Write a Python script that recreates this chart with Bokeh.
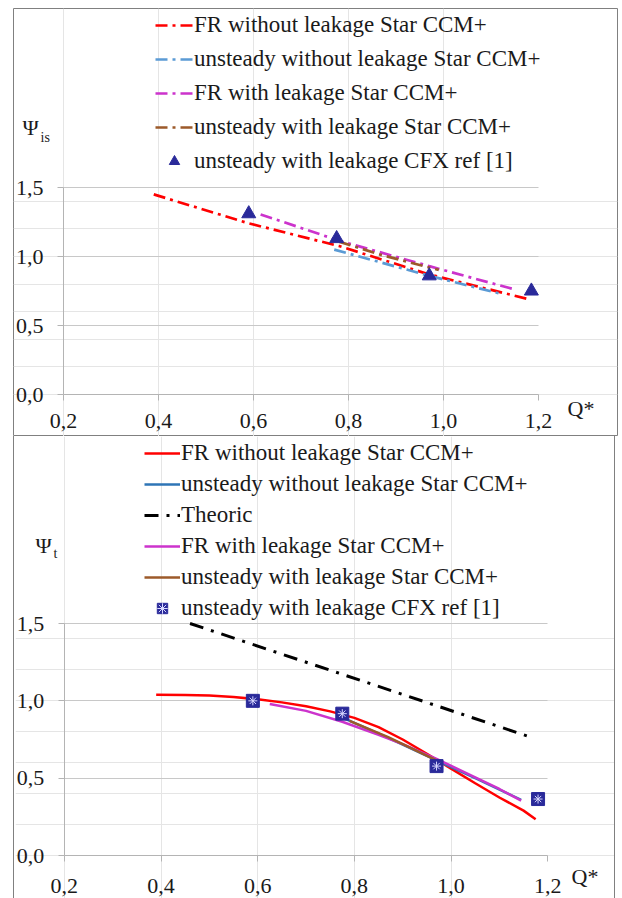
from bokeh.plotting import figure
from bokeh.models import (Range1d, FixedTicker, Label, Legend, LegendItem,
                          LinearAxis, Grid)
from bokeh.layouts import column
from bokeh.embed import file_html
from bokeh.resources import INLINE

# ---------------- data ----------------
x_ticks = [0.2, 0.4, 0.6, 0.8, 1.0, 1.2]
x_tick_labels = ["0,2", "0,4", "0,6", "0,8", "1,0", "1,2"]
y_ticks = [0.0, 0.5, 1.0, 1.5]
y_tick_labels = ["0,0", "0,5", "1,0", "1,5"]

# top panel : Psi_is
is_fr_noleak_q = [0.39, 0.59, 0.78, 0.97, 1.18]
is_fr_noleak_psi = [1.45, 1.24, 1.076, 0.87, 0.69]
is_unst_noleak_q = [0.77, 0.97, 1.12]
is_unst_noleak_psi = [1.05, 0.86, 0.73]
is_fr_leak_q = [0.615, 0.78, 0.97, 1.148]
is_fr_leak_psi = [1.305, 1.115, 0.93, 0.763]
is_unst_leak_q = [0.78, 0.87, 0.99]
is_unst_leak_psi = [1.108, 1.01, 0.903]
is_cfx_q = [0.59, 0.775, 0.97, 1.185]
is_cfx_psi = [1.31, 1.13, 0.86, 0.75]

# bottom panel : Psi_t
t_fr_noleak_q = [0.39, 0.45, 0.5, 0.55, 0.6, 0.65, 0.7, 0.75, 0.8, 0.85,
                 0.9, 0.95, 1.0, 1.05, 1.1, 1.15, 1.175]
t_fr_noleak_psi = [1.04, 1.038, 1.035, 1.025, 1.01, 0.99, 0.965, 0.932, 0.89,
                   0.83, 0.75, 0.658, 0.562, 0.467, 0.375, 0.29, 0.235]
t_unst_noleak_q = [0.78, 0.87, 0.97, 1.06, 1.145]
t_unst_noleak_psi = [0.885, 0.76, 0.615, 0.485, 0.36]
t_theoric_q = [0.46, 1.165]
t_theoric_psi = [1.5, 0.765]
t_fr_leak_q = [0.625, 0.7, 0.775, 0.85, 0.9, 0.97, 1.05, 1.1, 1.145]
t_fr_leak_psi = [0.98, 0.935, 0.865, 0.78, 0.72, 0.625, 0.505, 0.43, 0.355]
t_unst_leak_q = [0.79, 0.87, 0.97]
t_unst_leak_psi = [0.87, 0.765, 0.615]
t_cfx_q = [0.59, 0.775, 0.97, 1.18]
t_cfx_psi = [1.0, 0.917, 0.578, 0.365]

# ---------------- style ----------------
FONT = "'Liberation Serif', 'Times New Roman', serif"
FS = "22px"
LFS = "23px"
TXT = "#1a1a1a"
AXC = "#b4b4b4"
BORDER = "#808080"
RED = "#ff0000"
BLUE_T = "#5b9bd5"
BLUE_B = "#2e75b6"
MAG = "#cc33cc"
BROWN = "#9c5a2a"
NAVY = "#2a2a9a"


def panel(width, height, margin, fr, px, py, mb, xstand, outline, styles):
    """fr = frame (left, top, right, bottom) in page px;
    px = page x of Q*=0.2 and 1.2; py = page y of Psi=1.5 and 0."""
    fl, ft, frr, fb = fr
    kx = (px[1] - px[0]) / 1.0
    ky = (py[1] - py[0]) / 1.5
    xr = Range1d(0.2 - (px[0] - fl) / kx, 1.2 + (frr - px[1]) / kx)
    yr = Range1d(0.0 - (fb - py[1]) / ky, 1.5 + (py[0] - ft) / ky)
    p = figure(width=width, height=height, x_range=xr, y_range=yr,
               x_axis_location=None, y_axis_location=None,
               output_backend="svg", toolbar_location=None,
               min_border_left=mb[0], min_border_right=mb[1],
               min_border_top=mb[2], min_border_bottom=mb[3],
               outline_line_color=outline, outline_line_width=1,
               background_fill_color="white", border_fill_color="white",
               margin=margin, styles=styles)
    xa = LinearAxis(fixed_location=0.0, bounds=(0.2, 1.2),
                    ticker=FixedTicker(ticks=x_ticks),
                    major_label_overrides=dict(zip(x_ticks, x_tick_labels)),
                    major_label_standoff=xstand)
    ya = LinearAxis(fixed_location=0.2, bounds=(0.0, 1.5),
                    ticker=FixedTicker(ticks=y_ticks),
                    major_label_overrides=dict(zip(y_ticks, y_tick_labels)),
                    major_label_standoff=14)
    for ax in (xa, ya):
        ax.axis_line_color = AXC
        ax.major_tick_line_color = AXC
        ax.major_tick_out = 6
        ax.major_tick_in = 0
        ax.minor_tick_line_color = None
        ax.major_label_text_font = FONT
        ax.major_label_text_font_size = FS
        ax.major_label_text_color = TXT
    p.add_layout(xa, "below")
    p.add_layout(ya, "left")
    p.add_layout(Grid(dimension=1, ticker=FixedTicker(ticks=y_ticks[1:]),
                      cross_bounds=(0.2, 1.2), grid_line_color="#c8c8c8",
                      grid_line_width=1))
    return p


def add_label(p, x, y, text, size=FS):
    p.add_layout(Label(x=x, y=y, x_units="screen", y_units="screen", text=text,
                       text_font=FONT, text_font_size=size, text_color=TXT,
                       text_baseline="middle", text_align="left"))


# ---------------- top panel ----------------
top = panel(606, 429, (7, 0, 0, 12), (13, 8, 617, 436), (63, 538), (187, 394),
            (1, 1, 1, 0), 13, BORDER, {})

dd = "12 5 3 5"
r1 = top.line(is_fr_noleak_q, is_fr_noleak_psi, line_color=RED, line_width=2.7, line_dash=dd)
r2 = top.line(is_unst_noleak_q, is_unst_noleak_psi, line_color=BLUE_T, line_width=2.7, line_dash=dd)
r3 = top.line(is_fr_leak_q, is_fr_leak_psi, line_color=MAG, line_width=2.7, line_dash=dd)
r4 = top.line(is_unst_leak_q, is_unst_leak_psi, line_color=BROWN, line_width=2.7, line_dash=dd)
r5 = top.scatter(is_cfx_q, is_cfx_psi, marker="triangle", size=14,
                 fill_color=NAVY, line_color=NAVY)

leg_t = Legend(items=[
    LegendItem(label="FR without leakage Star CCM+", renderers=[r1]),
    LegendItem(label="unsteady without leakage Star CCM+", renderers=[r2]),
    LegendItem(label="FR with leakage Star CCM+", renderers=[r3]),
    LegendItem(label="unsteady with leakage Star CCM+", renderers=[r4]),
    LegendItem(label="unsteady with leakage CFX ref [1]", renderers=[r5]),
], location=(142, 262), padding=0, margin=0, spacing=8,
    label_height=26, glyph_height=26, glyph_width=38, label_standoff=1,
    label_text_font=FONT, label_text_font_size=LFS, label_text_color=TXT,
    border_line_color=None, background_fill_alpha=0)
top.add_layout(leg_t)
add_label(top, 9, 309, "Ψ")
add_label(top, 27, 299, "is", "14px")
add_label(top, 554, 28, "Q*")

# ---------------- bottom panel ----------------
bot = panel(602, 462, (0, 0, 0, 13), (14, 436, 616, 898), (63, 548), (623, 855),
            (0, 0, 0, 0), 17, None,
            {"border-left": "1px solid " + BORDER, "border-right": "1px solid " + BORDER})

s1 = bot.line(t_fr_noleak_q, t_fr_noleak_psi, line_color=RED, line_width=2.5)
s2 = bot.line(t_unst_noleak_q, t_unst_noleak_psi, line_color=BLUE_B, line_width=2.5)
s3 = bot.line(t_theoric_q, t_theoric_psi, line_color="black", line_width=3, line_dash="14 8 3 8")
s4 = bot.line(t_fr_leak_q, t_fr_leak_psi, line_color=MAG, line_width=2.5)
s5 = bot.line(t_unst_leak_q, t_unst_leak_psi, line_color=BROWN, line_width=2.5)
s6 = bot.scatter(t_cfx_q, t_cfx_psi, marker="square", size=13,
                 fill_color=NAVY, line_color=NAVY)
s7 = bot.scatter(t_cfx_q, t_cfx_psi, marker="asterisk", size=9,
                 line_color="#d8d8ff", line_width=1)

leg_b = Legend(items=[
    LegendItem(label="FR without leakage Star CCM+", renderers=[s1]),
    LegendItem(label="unsteady without leakage Star CCM+", renderers=[s2]),
    LegendItem(label="Theoric", renderers=[s3]),
    LegendItem(label="FR with leakage Star CCM+", renderers=[s4]),
    LegendItem(label="unsteady with leakage Star CCM+", renderers=[s5]),
    LegendItem(label="unsteady with leakage CFX ref [1]", renderers=[s6, s7]),
], location=(129, 277), padding=0, margin=0, spacing=5,
    label_height=26, glyph_height=26, glyph_width=36, label_standoff=1,
    label_text_font=FONT, label_text_font_size=LFS, label_text_color=TXT,
    border_line_color=None, background_fill_alpha=0)
bot.add_layout(leg_b)
add_label(bot, 20, 353, "Ψ")
add_label(bot, 38, 345, "t", "14px")
add_label(bot, 556, 22, "Q*")

layout = column(top, bot, spacing=0)
open("out.html", "w").write(file_html(layout, INLINE))
